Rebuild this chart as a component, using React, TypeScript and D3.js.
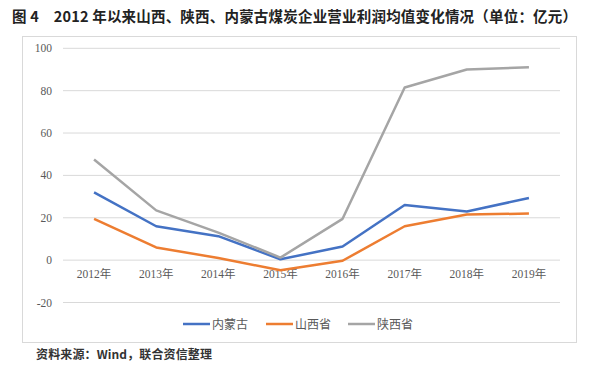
import React from "react";
import * as d3 from "d3";

const categories = ["2012年", "2013年", "2014年", "2015年", "2016年", "2017年", "2018年", "2019年"];
const neimenggu = [32, 16, 11.3, 0.4, 6.4, 26, 23, 29.3];
const shanxi = [19.5, 6, 1, -4.8, -0.3, 16, 21.5, 22];
const shaanxi = [47.5, 23.5, 13, 1.2, 19.5, 81.5, 90, 91];
const yTicks = [-20, 0, 20, 40, 60, 80, 100];
const seriesNames = ["内蒙古", "山西省", "陕西省"];
const seriesColors = ["#4472C4", "#ED7D31", "#A5A5A5"];

const W = 600;
const H = 378;

export default function App() {
  const x = d3.scaleBand<string>().domain(categories).range([63, 560]);
  const y = d3.scaleLinear().domain([-20, 100]).range([302.5, 48.3]);
  const series = [neimenggu, shanxi, shaanxi];
  const line = d3
    .line<number>()
    .x((_, i) => (x(categories[i]) as number) + x.bandwidth() / 2)
    .y((d) => y(d));
  const serif = "'Liberation Serif', 'Noto Sans CJK SC', serif";
  const legendX = [183, 266, 348];

  return (
    <svg
      width={W}
      height={H}
      style={{ position: "absolute", left: 0, top: 0, background: "#fff" }}
    >
      <rect x={0} y={0} width={W} height={H} fill="#fff" />
      <text
        x={12}
        y={22}
        fontFamily="'Noto Sans CJK SC', sans-serif"
        fontWeight="bold"
        fontSize={14.5}
        fill="#222"
        textLength={565}
        lengthAdjust="spacing"
      >
        图 4　2012 年以来山西、陕西、内蒙古煤炭企业营业利润均值变化情况（单位：亿元）
      </text>
      <rect x={22.5} y={36.5} width={554} height={306} fill="#fff" stroke="#d9d9d9" strokeWidth={1} />
      {yTicks.map((t) => (
        <g key={t}>
          <line x1={63} x2={560} y1={y(t)} y2={y(t)} stroke="#d9d9d9" strokeWidth={1} />
          <text
            x={52}
            y={y(t) + 4}
            textAnchor="end"
            fontFamily={serif}
            fontSize={11.5}
            fill="#595959"
          >
            {t}
          </text>
        </g>
      ))}
      {categories.map((c) => (
        <text
          key={c}
          x={(x(c) as number) + x.bandwidth() / 2}
          y={y(0) + 18}
          textAnchor="middle"
          fontFamily={serif}
          fontSize={11.5}
          fill="#595959"
        >
          {c}
        </text>
      ))}
      {series.map((s, i) => (
        <path
          key={i}
          d={line(s) as string}
          fill="none"
          stroke={seriesColors[i]}
          strokeWidth={2.5}
          strokeLinejoin="round"
        />
      ))}
      {seriesNames.map((n, i) => (
        <g key={n}>
          <line
            x1={legendX[i]}
            x2={legendX[i] + 27}
            y1={324}
            y2={324}
            stroke={seriesColors[i]}
            strokeWidth={2.5}
          />
          <text
            x={legendX[i] + 29}
            y={328.5}
            fontFamily={serif}
            fontSize={12}
            fill="#595959"
          >
            {n}
          </text>
        </g>
      ))}
      <text
        x={36}
        y={359}
        fontFamily="'Noto Sans CJK SC', sans-serif"
        fontWeight="bold"
        fontSize={12}
        fill="#333"
        textLength={176}
        lengthAdjust="spacing"
      >
        资料来源：Wind，联合资信整理
      </text>
    </svg>
  );
}
